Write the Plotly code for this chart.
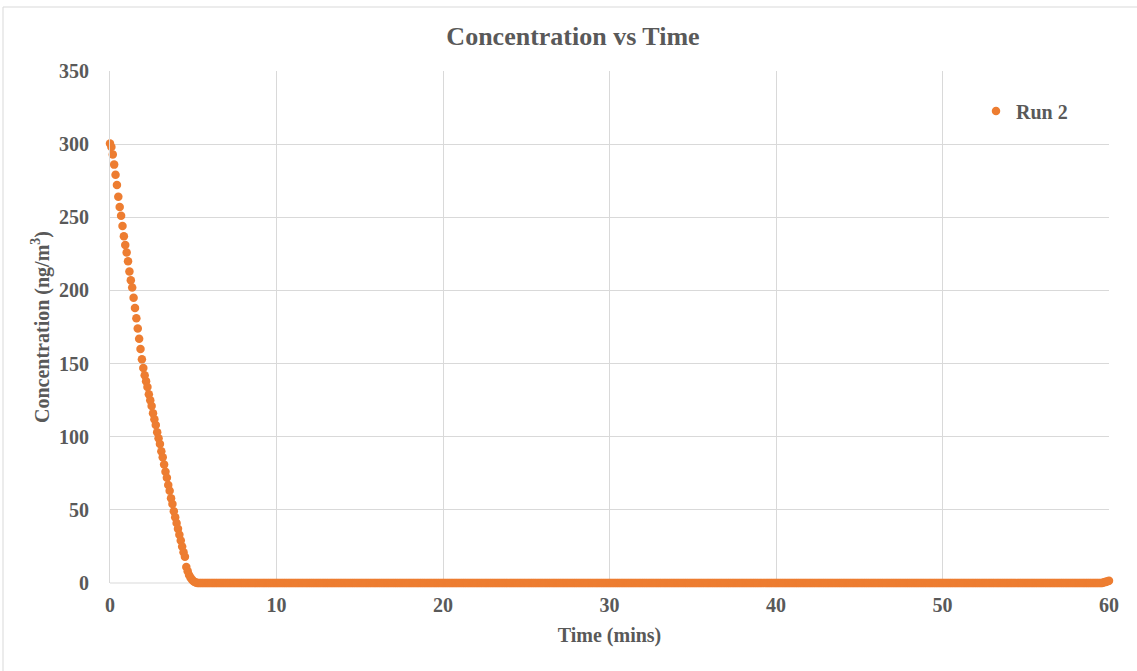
import plotly.graph_objects as go

# Run 2: concentration logged every 5 seconds for one hour
SAMPLE_INTERVAL_S = 5

# Decay phase, first 63 samples (ng/m3)
decay = [
    300.5, 298, 293, 286, 279, 272, 264, 257, 251, 244,
    237, 231, 226, 220, 213, 207, 202, 195, 188, 181,
    174, 167, 160, 153, 147, 142, 138, 134, 129, 125,
    121, 116, 112, 108, 103, 99, 95, 90, 86, 81,
    76, 72, 67, 63, 58, 54, 49, 45, 41, 37,
    33, 29, 25, 21, 18, 11, 8, 5.5, 3.8, 2.4,
    1.4, 0.7, 0.3,
]
# Background level after the chamber cleared
baseline = [0.0] * 653
# Small rise over the last samples
tail = [0.3, 0.6, 0.9, 1.2, 1.5]

concentration = decay + baseline + tail
time_min = [i * SAMPLE_INTERVAL_S / 60 for i in range(len(concentration))]

x_ticks = [0, 10, 20, 30, 40, 50, 60]
y_ticks = [0, 50, 100, 150, 200, 250, 300, 350]

ORANGE = "#ED7D31"
TEXT = "#595959"
GRID = "#D9D9D9"
FONT = "Times New Roman, Liberation Serif, serif"

fig = go.Figure()
fig.add_trace(go.Scatter(
    x=time_min,
    y=concentration,
    mode="markers",
    name="Run 2",
    marker=dict(color=ORANGE, size=8.5, line=dict(width=0)),
    cliponaxis=False,
))

W, H = 1137, 671
L, R, T, B = 110, 28, 71, 88
pw, ph = W - L - R, H - T - B


def px_to_paper_x(px):
    return (px - L) / pw


def px_to_paper_y(py):
    return (H - B - py) / ph


fig.update_layout(
    width=W,
    height=H,
    margin=dict(l=L, r=R, t=T, b=B, autoexpand=False),
    paper_bgcolor="white",
    plot_bgcolor="white",
    font=dict(family=FONT, color=TEXT, size=20, weight="bold"),
    title=dict(
        text="Concentration vs Time",
        x=573 / W, xref="container", xanchor="center",
        y=1 - 36 / H, yref="container", yanchor="middle",
        font=dict(size=26, family=FONT, color=TEXT, weight="bold"),
    ),
    showlegend=True,
    legend=dict(
        x=px_to_paper_x(976), xanchor="left",
        y=px_to_paper_y(111), yanchor="middle",
        bgcolor="rgba(0,0,0,0)",
        font=dict(size=20, family=FONT, color=TEXT, weight="bold"),
    ),
    xaxis=dict(
        range=[0, 60],
        tickvals=x_ticks,
        showgrid=True, gridcolor=GRID, gridwidth=1,
        zeroline=False, showline=False,
        ticks="", ticklabelstandoff=8,
        title=dict(text="Time (mins)", standoff=12,
                   font=dict(size=20, family=FONT, color=TEXT, weight="bold")),
        automargin=False,
    ),
    yaxis=dict(
        range=[0, 350],
        tickvals=y_ticks,
        showgrid=True, gridcolor=GRID, gridwidth=1,
        zeroline=False, showline=True, linecolor=GRID, linewidth=1,
        ticks="", ticklabelstandoff=16,
        title=dict(text="Concentration (ng/m<sup>3</sup>)", standoff=4,
                   font=dict(size=20, family=FONT, color=TEXT, weight="bold")),
        automargin=False,
    ),
    shapes=[
        # bottom axis line
        dict(type="line", xref="paper", yref="paper", x0=0, x1=1, y0=0, y1=0,
             line=dict(color=GRID, width=1), layer="below"),
        # chart frame
        dict(type="rect", xref="paper", yref="paper",
             x0=px_to_paper_x(3), x1=px_to_paper_x(1145),
             y0=px_to_paper_y(680), y1=px_to_paper_y(7),
             line=dict(color=GRID, width=1), fillcolor="rgba(0,0,0,0)"),
    ],
)

fig.write_html("out.html")
